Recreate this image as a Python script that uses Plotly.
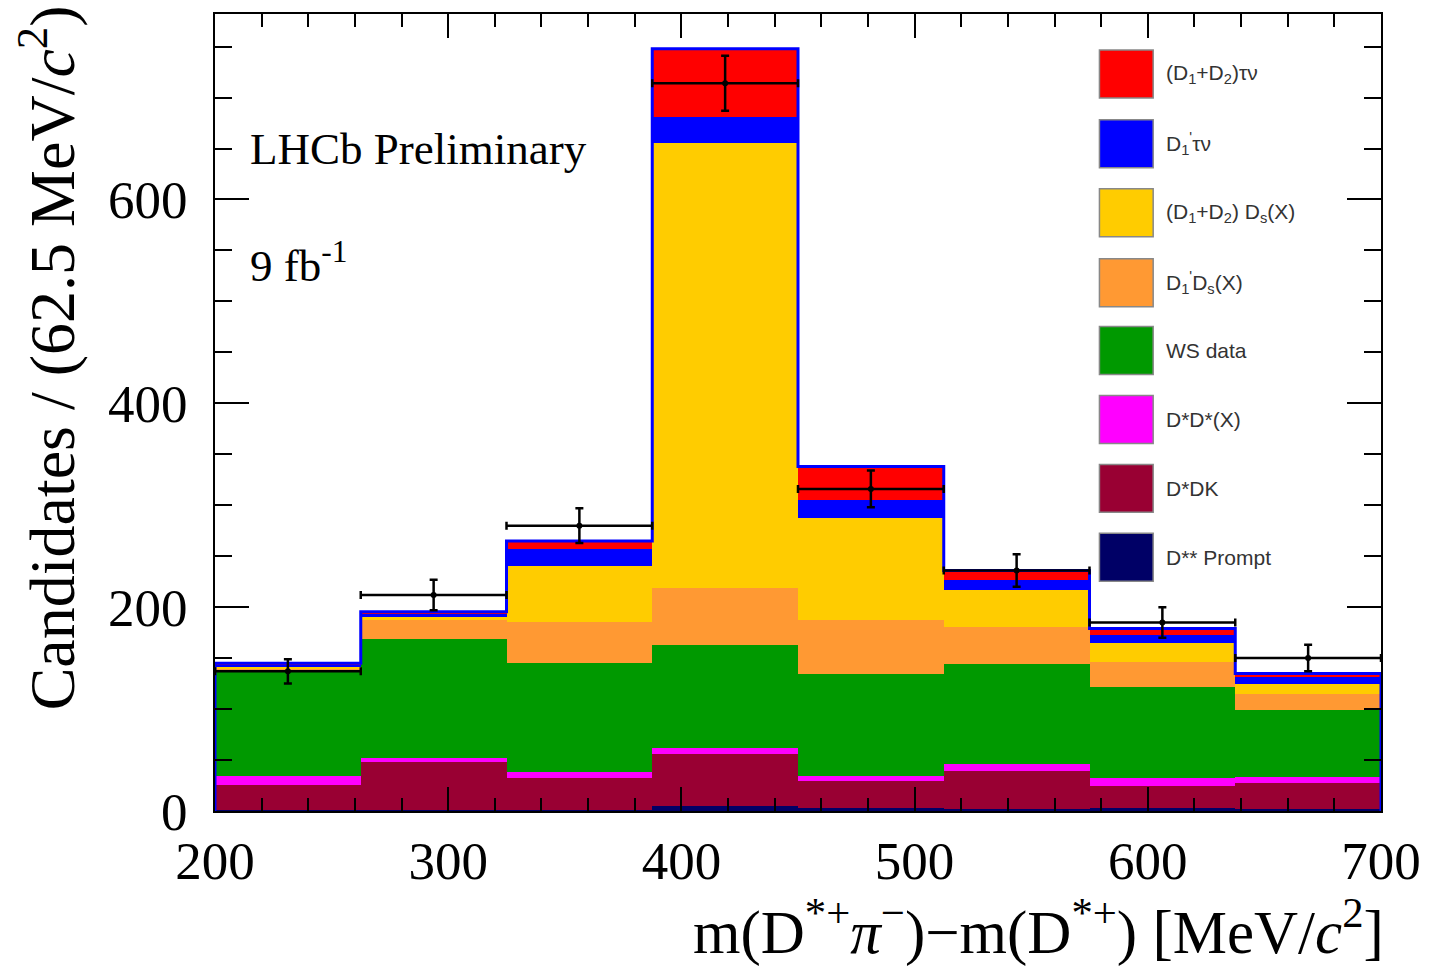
import numpy as np
import plotly.graph_objects as go

# Binning: 8 bins of 62.5 MeV/c^2 from 200 to 700
bin_lo = 200.0
bin_w = 62.5
n_bins = 8
centers = [bin_lo + bin_w * (i + 0.5) for i in range(n_bins)]

# Stacked template contributions (bottom to top)
d2s_prompt = [1, 1, 1, 5, 3, 2, 3, 2]
dstar_dk = [25, 47, 31, 51, 26, 37, 22, 25]
dstar_dstar_x = [8, 4, 6, 6, 5, 7, 7, 6]
ws_data = [103, 117, 107, 101, 100, 98, 90, 66]
d1p_ds_x = [2.5, 18, 40, 56, 53, 37, 24, 16]
d12_ds_x = [1.5, 3, 55, 436, 100, 36, 19, 10]
d1p_taunu = [3, 4, 17, 26, 18, 10, 8, 6]
d12_taunu = [1, 1.5, 8, 67, 33, 9, 6, 4]

# Data points with statistical uncertainties
data_y = [137, 212, 280, 714, 316, 236, 185, 150]
data_err = [12, 15, 17, 27, 18, 16, 15, 13]

components = [
    ("D** Prompt", d2s_prompt, "#000066"),
    ("D*DK", dstar_dk, "#990033"),
    ("D*D*(X)", dstar_dstar_x, "#FF00FF"),
    ("WS data", ws_data, "#009900"),
    ("D1'Ds(X)", d1p_ds_x, "#FF9933"),
    ("(D1+D2)Ds(X)", d12_ds_x, "#FFCC00"),
    ("D1'taunu", d1p_taunu, "#0000FF"),
    ("(D1+D2)taunu", d12_taunu, "#FF0000"),
]

fig = go.Figure()

for name, vals, col in components:
    fig.add_trace(go.Bar(
        x=centers, y=vals, width=bin_w, name=name,
        marker=dict(color=col, line=dict(width=0)),
        showlegend=False, hoverinfo="skip",
    ))

# Outline of the total stack as a step histogram
total = np.sum([c[1] for c in components], axis=0)
edges = [bin_lo + bin_w * i for i in range(n_bins + 1)]
step_x = [edges[0]] + edges[:-1] + [edges[-1], edges[-1]]
step_y = [0] + list(total) + [total[-1], 0]
fig.add_trace(go.Scatter(
    x=step_x, y=step_y, mode="lines", line=dict(color="#0000FF", width=3, shape="hv"),
    showlegend=False, hoverinfo="skip",
))

# Data with error bars
fig.add_trace(go.Scatter(
    x=centers, y=data_y, mode="markers",
    marker=dict(color="black", size=6),
    error_y=dict(type="data", array=data_err, color="black", thickness=2.5, width=4),
    error_x=dict(type="constant", value=bin_w / 2, color="black", thickness=2.5, width=4),
    showlegend=False,
))

# Plot-area geometry in pixels (used to place legend boxes and texts)
W, H = 1433, 969
L, R, T, B = 215, 46, 13, 158
pw, ph = W - L - R, H - T - B


def px_x(x):
    return (x - L) / pw


def px_y(y):
    return (H - B - y) / ph


legend_entries = [
    ("(D<sub>1</sub>+D<sub>2</sub>)τν", "#FF0000", 73),
    ("D<sub>1</sub><sup>'</sup>τν", "#0000FF", 143),
    ("(D<sub>1</sub>+D<sub>2</sub>) D<sub>s</sub>(X)", "#FFCC00", 212),
    ("D<sub>1</sub><sup>'</sup>D<sub>s</sub>(X)", "#FF9933", 282),
    ("WS data", "#009900", 350),
    ("D*D*(X)", "#FF00FF", 419),
    ("D*DK", "#990033", 488),
    ("D** Prompt", "#000066", 557),
]

shapes = []
annotations = []
for label, col, yc in legend_entries:
    shapes.append(dict(
        type="rect", xref="paper", yref="paper",
        x0=px_x(1104), x1=px_x(1158), y0=px_y(yc + 24), y1=px_y(yc - 24),
        fillcolor=col, line=dict(color="#888888", width=1.5), layer="above",
    ))
    annotations.append(dict(
        xref="paper", yref="paper", x=px_x(1169), y=px_y(yc),
        xanchor="left", yanchor="middle", showarrow=False,
        text=label, font=dict(family="Liberation Sans, Arial", size=21, color="#333333"),
    ))

serif = "Liberation Serif, Times New Roman, serif"
annotations += [
    dict(xref="paper", yref="paper", x=px_x(248), y=px_y(148), xanchor="left", yanchor="middle",
         showarrow=False, text="LHCb Preliminary", font=dict(family=serif, size=45, color="black")),
    dict(xref="paper", yref="paper", x=px_x(248), y=px_y(262), xanchor="left", yanchor="middle",
         showarrow=False, text="9 fb<sup>-1</sup>", font=dict(family=serif, size=45, color="black")),
    dict(xref="paper", yref="paper", x=px_x(47), y=px_y(2), xanchor="center", yanchor="top",
         textangle=-90, showarrow=False,
         text="Candidates / (62.5 MeV/<i>c</i><sup>2</sup>)",
         font=dict(family=serif, size=64, color="black")),
    dict(xref="paper", yref="paper", x=px_x(1392), y=px_y(928), xanchor="right", yanchor="middle",
         showarrow=False,
         text="m(D<sup>*+</sup><i>π</i><sup>−</sup>)−m(D<sup>*+</sup>) [MeV/<i>c</i><sup>2</sup>]",
         font=dict(family=serif, size=61, color="black")),
]

fig.update_layout(
    width=W, height=H,
    margin=dict(l=L, r=R, t=T, b=B, pad=0),
    paper_bgcolor="white", plot_bgcolor="white",
    barmode="stack", bargap=0,
    shapes=shapes, annotations=annotations,
    font=dict(family=serif, color="black"),
)

fig.update_xaxes(
    range=[200, 700], tickvals=[200, 300, 400, 500, 600, 700],
    ticks="inside", ticklen=24, tickwidth=2, tickcolor="black",
    minor=dict(dtick=20, ticks="inside", ticklen=13, tickwidth=2, tickcolor="black"),
    showline=True, linecolor="black", linewidth=2, mirror="allticks",
    showgrid=False, zeroline=False,
    tickfont=dict(family=serif, size=53, color="black"), ticklabelstandoff=2,
)
fig.update_yaxes(
    range=[0, 782], tickvals=[0, 200, 400, 600],
    ticks="inside", ticklen=34, tickwidth=2, tickcolor="black",
    minor=dict(dtick=50, ticks="inside", ticklen=17, tickwidth=2, tickcolor="black"),
    showline=True, linecolor="black", linewidth=2, mirror="allticks",
    showgrid=False, zeroline=False,
    tickfont=dict(family=serif, size=53, color="black"), ticklabelstandoff=15,
)

fig.write_html("out.html")
